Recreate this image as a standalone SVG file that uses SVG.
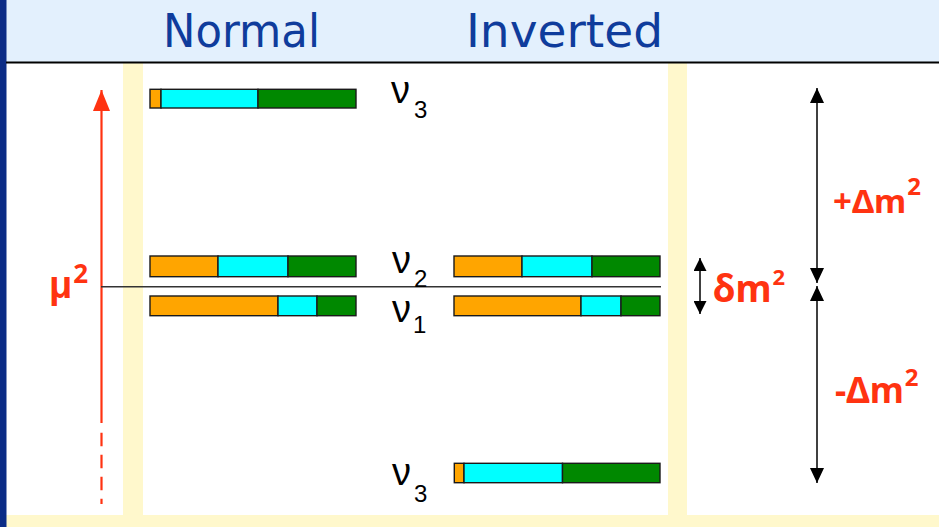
<svg xmlns="http://www.w3.org/2000/svg" width="939" height="527" viewBox="0 0 939 527">
<defs>
<style>
.o{fill:#FFA500;stroke:#1a1a1a;stroke-width:1.4}
.c{fill:#00FFFF;stroke:#1a1a1a;stroke-width:1.4}
.g{fill:#008800;stroke:#1a1a1a;stroke-width:1.4}
.band{fill:#FFF8CC}
.hdr{font-family:"DejaVu Sans","Noto Sans",sans-serif;font-size:47px;fill:#0F3C9C}
.nu{font-family:"Liberation Sans","DejaVu Sans",sans-serif;font-size:38px;fill:#000}
.sub{font-size:24px}
.red{font-family:"Noto Sans","Open Sans",sans-serif;font-weight:bold;fill:#FF3311}
.blk{stroke:#000;stroke-width:1.5;fill:none}
</style>
<marker id="ah" viewBox="0 0 10 10" refX="10" refY="5" markerWidth="15" markerHeight="14" markerUnits="userSpaceOnUse" orient="auto-start-reverse" preserveAspectRatio="none"><path d="M0,0 L10,5 L0,10 z" fill="#000"/></marker>
<marker id="ahs" viewBox="0 0 10 10" refX="10" refY="5" markerWidth="13" markerHeight="13" markerUnits="userSpaceOnUse" orient="auto-start-reverse" preserveAspectRatio="none"><path d="M0,0 L10,5 L0,10 z" fill="#000"/></marker>
<marker id="ahr" viewBox="0 0 10 10" refX="10" refY="5" markerWidth="21" markerHeight="17" markerUnits="userSpaceOnUse" orient="auto" preserveAspectRatio="none"><path d="M0,0 L10,5 L0,10 z" fill="#FF3311"/></marker>
</defs>
<!-- background -->
<rect x="0" y="0" width="939" height="527" fill="#FFFFFF"/>
<rect x="0" y="0" width="939" height="62" fill="#E3F0FD"/>
<rect class="band" x="123" y="63" width="20" height="452"/>
<rect class="band" x="668" y="63" width="19" height="452"/>
<rect class="band" x="6" y="515" width="933" height="12"/>
<rect x="0" y="0" width="6.5" height="527" fill="#0B2C86"/>
<line x1="6" y1="62.5" x2="939" y2="62.5" stroke="#000" stroke-width="2"/>
<g id="header">
<text class="hdr" x="163" y="47" textLength="157" lengthAdjust="spacingAndGlyphs">Normal</text>
<text class="hdr" x="466" y="47" textLength="197" lengthAdjust="spacingAndGlyphs">Inverted</text>
</g>
<g id="connectors">
<line x1="101.5" y1="423" x2="101.5" y2="90" stroke="#FF3311" stroke-width="2.2" marker-end="url(#ahr)"/>
<line x1="101.5" y1="432.7" x2="101.5" y2="504" stroke="#FF3311" stroke-width="2.2" stroke-dasharray="13.5 8.5"/>
<line x1="101" y1="286.7" x2="661" y2="286.7" stroke="#333" stroke-width="1.5"/>
<line class="blk" x1="700" y1="258" x2="700" y2="314" marker-start="url(#ahs)" marker-end="url(#ahs)"/>
<line class="blk" x1="817" y1="88" x2="817" y2="283" marker-start="url(#ah)" marker-end="url(#ah)"/>
<line class="blk" x1="817" y1="286" x2="817" y2="483" marker-start="url(#ah)" marker-end="url(#ah)"/>
</g>
<g id="mu2">
<text class="red" x="49" y="298"><tspan font-size="38" font-family="Liberation Sans, sans-serif">μ</tspan><tspan dx="1" dy="-15.5" font-size="26">2</tspan></text>
</g>
<g id="normal-nu3">
<rect class="o" x="150" y="89.3" width="11" height="18.7"/>
<rect class="c" x="161" y="89.3" width="97" height="18.7"/>
<rect class="g" x="258" y="89.3" width="98" height="18.7"/>
</g>
<g id="normal-nu2">
<rect class="o" x="150" y="256" width="68" height="20.7"/>
<rect class="c" x="218" y="256" width="70" height="20.7"/>
<rect class="g" x="288" y="256" width="68" height="20.7"/>
</g>
<g id="normal-nu1">
<rect class="o" x="150" y="296" width="128" height="19.7"/>
<rect class="c" x="278" y="296" width="39" height="19.7"/>
<rect class="g" x="317" y="296" width="39" height="19.7"/>
</g>
<g id="inverted-nu2">
<rect class="o" x="454" y="256" width="68" height="20.7"/>
<rect class="c" x="522" y="256" width="70" height="20.7"/>
<rect class="g" x="592" y="256" width="68" height="20.7"/>
</g>
<g id="inverted-nu1">
<rect class="o" x="454" y="296" width="127" height="19.7"/>
<rect class="c" x="581" y="296" width="40" height="19.7"/>
<rect class="g" x="621" y="296" width="39" height="19.7"/>
</g>
<g id="inverted-nu3">
<rect class="o" x="454.3" y="463.3" width="9.7" height="19.4"/>
<rect class="c" x="464" y="463.3" width="98.5" height="19.4"/>
<rect class="g" x="562.5" y="463.3" width="97.5" height="19.4"/>
</g>
<g id="label-nu3-top">
<text class="nu"><tspan x="391" y="103">ν</tspan><tspan class="sub" x="414" y="118">3</tspan></text>
</g>
<g id="label-nu2">
<text class="nu"><tspan x="392" y="273">ν</tspan><tspan class="sub" x="414" y="286.5">2</tspan></text>
</g>
<g id="label-nu1">
<text class="nu"><tspan x="392" y="321.5">ν</tspan><tspan class="sub" x="413" y="333">1</tspan></text>
</g>
<g id="label-nu3-bottom">
<text class="nu"><tspan x="392" y="485">ν</tspan><tspan class="sub" x="414" y="501.5">3</tspan></text>
</g>
<g id="label-dm2">
<text class="red" x="713" y="302"><tspan font-size="37">δm</tspan><tspan dx="1" dy="-17" font-size="22">2</tspan></text>
</g>
<g id="label-plus-Dm2">
<text class="red" x="833" y="213"><tspan font-size="33">+Δm</tspan><tspan dx="1" dy="-18" font-size="24">2</tspan></text>
</g>
<g id="label-minus-Dm2">
<text class="red" x="835" y="403"><tspan font-size="35">-Δm</tspan><tspan dx="1" dy="-17" font-size="24">2</tspan></text>
</g>
</svg>
